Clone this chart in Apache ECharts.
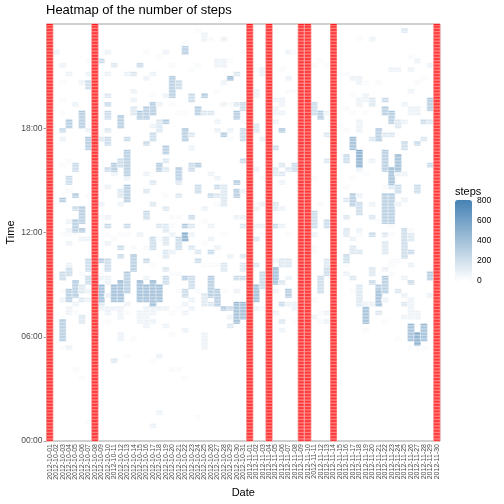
<!DOCTYPE html>
<html>
<head>
<meta charset="utf-8">
<script src="https://cdn.jsdelivr.net/npm/echarts@6/dist/echarts.min.js"></script>
<style>
html, body { margin: 0; padding: 0; background: #fff; }
#chart { width: 504px; height: 504px; }
</style>
</head>
<body>
<div id="chart"></div>
<script>
// Dates on the x axis: 2012-10-01 .. 2012-11-30
let dates = [];
for (let i = 1; i <= 31; i++) dates.push('2012-10-' + String(i).padStart(2, '0'));
for (let i = 1; i <= 30; i++) dates.push('2012-11-' + String(i).padStart(2, '0'));

// Days with no recorded data (drawn red)
let naDays = ['2012-10-01', '2012-10-08', '2012-11-01', '2012-11-04',
              '2012-11-09', '2012-11-10', '2012-11-14', '2012-11-30'];

// Step counts for the colour levels (0 = white)
let stepLevels = [0, 30, 90, 170, 260, 370, 480, 590, 700, 790];

// Per day: [start hour, end hour, level] stretches of activity
let octSteps = [
    [],
    [[22.25,22.5,2]],
    [[5.25,5.5,1],[5.75,7,5],[8,8.25,2],[8.5,8.75,1],[9.25,9.75,4],[11.75,12,1],[13.75,14,5],[15.75,16,1],[17.25,17.5,2],[17.75,18,4],[18.75,19,1],[19.5,19.75,1],[20.5,20.75,1],[21.5,21.75,2]],
    [[5.25,5.5,2],[7.25,7.75,2],[8,8.75,5],[9.5,10,4],[10,10.25,2],[11.25,11.5,2],[11.75,12,1],[12,12.25,2],[12.5,12.75,2],[14.25,14.5,1],[14.75,15.25,4],[16,16.25,1],[18,18.5,5],[21,21.25,2]],
    [[4,4.25,1],[7.25,7.5,1],[7.75,8,2],[8.25,9.25,5],[11.75,12,1],[12,12.75,5],[13.25,13.5,4],[14,14.25,5],[15.5,16,4],[19.25,19.5,2]],
    [[3.5,3.75,1],[6.75,7.25,3],[8,8.25,3],[8.5,9,3],[9.5,9.75,1],[11.5,11.75,2],[12,12.25,5],[12.5,13.5,5],[18,19,5],[20.5,20.75,2]],
    [[1,1.25,1],[8,8.25,2],[8.5,8.75,2],[9,9.5,4],[9.75,10.5,4],[11.5,11.75,2],[14,14.25,1],[16.75,17.5,5],[17.75,18,2],[20.25,20.75,4],[21,21.25,2],[21.75,22,1]],
    [],
    [[2,2.25,1],[7.5,7.75,2],[7.75,8,3],[8,9,6],[9.25,9.5,2],[10.25,10.5,5],[12.75,13,1],[13.5,13.75,2],[17.25,17.5,3],[21.75,22,4]],
    [[6.75,7,1],[7.25,7.75,2],[8.25,8.5,2],[9,9.5,2],[9.75,10.5,4],[11.25,11.5,2],[11.75,12,1],[12.25,12.5,4],[12.75,13,2],[14.5,14.75,2],[15.5,15.75,4],[17,17.5,4],[17.75,18,3],[18.5,19,4],[19.25,19.5,4],[19.75,20,3],[21,21.25,2],[22.25,22.5,2]],
    [[4.5,4.75,3],[7.5,7.75,2],[8,9,6],[11.5,11.75,1],[15.25,15.5,2],[15.5,16,5],[21.5,21.75,3]],
    [[5.75,6.25,2],[7,7.75,2],[8,9.25,6],[10.5,10.75,4],[11,11.25,4],[11.75,12,1],[13.5,13.75,2],[14,14.5,3],[15.75,16.25,4],[18,18.75,5]],
    [[4.75,5,1],[7.25,7.5,1],[7.75,8,2],[8.5,9.75,5],[11.75,12,1],[12.25,12.5,4],[13.75,14.75,5],[15,15.25,2],[15.25,16.75,5],[17.25,17.5,4],[21,21.25,2]],
    [[5.75,6,1],[9.75,10.75,5],[11,11.25,1],[18.75,19.25,3],[19.5,19.75,2],[20,20.25,2],[21,21.25,3]],
    [[6.75,7.5,2],[8,9.25,6],[11.75,12,2],[18.5,19,5],[21.5,21.75,4]],
    [[6.5,7.75,2],[8,9,6],[9.25,9.5,2],[10.25,10.5,4],[11,11.25,1],[12.75,13.25,4],[14.25,14.5,3],[15.25,15.5,2],[17,17.25,4],[18.5,19.25,5],[20.75,21,2],[22.25,22.5,1]],
    [[0.75,1,2],[4.5,4.75,1],[6.75,7,2],[7.25,7.75,2],[7.75,9.25,6],[10,10.25,1],[11,11.75,4],[13.5,13.75,3],[14.75,15,3],[17.25,17.75,4],[18,18.25,2],[18.75,19.5,5],[19.75,20,1],[21,21.25,2]],
    [[1.5,1.75,2],[4.75,5,2],[7.5,7.75,2],[8,9,6],[11.5,11.75,1],[12.25,12.5,3],[15.5,16,5],[17.75,18.5,3],[19.25,19.5,2],[22,22.25,1]],
    [[6.5,6.75,2],[7.5,7.75,2],[9,9.5,4],[9.75,10,3],[10.5,11,3],[11.25,11.75,3],[12,12.5,3],[13.25,13.5,3],[14,14.25,1],[15.5,15.75,3],[16,16.25,3],[16.5,17,5],[18.25,18.5,5],[19.75,20,2],[22.25,22.5,2]],
    [[4,4.25,1],[6,6.25,1],[7.25,7.5,1],[9.5,9.75,1],[10.75,11,2],[11.75,12,2],[12.25,12.5,1],[12.75,13,1],[19.25,19.5,1],[19.75,21,5],[21.5,21.75,1]],
    [[4,4.25,1],[7.5,7.75,1],[8.5,8.75,1],[9.5,9.75,1],[11,11.75,4],[12.75,13,1],[14,14.25,3],[14.75,15,3],[15,15.75,5],[18.75,19,1],[20.25,20.75,4]],
    [[3.5,3.75,1],[6.25,6.5,2],[7.25,7.5,2],[7.75,8,2],[8.25,8.75,4],[9.25,9.5,5],[11.5,12,7],[12.25,12.5,5],[17.25,18,5],[18.75,19,1],[22.25,22.75,5],[22.75,23,1]],
    [[7.5,7.75,2],[8,8.25,2],[8.75,9.5,4],[11,11.25,3],[11.75,12,2],[12.25,12.5,3],[12.75,13,4],[15.5,16,4],[16.75,17,2],[17.5,17.75,3],[19.5,20,4],[21.25,21.5,1]],
    [[1.25,1.5,1],[8.5,8.75,1],[10.25,10.5,4],[10.75,11,3],[14.25,14.75,4],[15.75,16,5],[18.75,19.25,5],[21.5,21.75,1],[23.5,23.75,1]],
    [[5.25,6.25,2],[7.75,8.5,3],[10,10.25,1],[11.25,11.5,1],[12.5,12.75,1],[13.25,13.5,2],[18.75,19,3],[19.75,20,5],[23,23.5,2]],
    [[7.75,8,3],[8.25,9.5,5],[10,10.25,1],[10.75,11,4],[11.5,11.75,2],[12.25,12.5,2],[14,14.25,4],[15.25,15.5,2],[18.75,19,3],[23,23.25,1]],
    [[7.75,8.75,5],[10,10.25,1],[11,11.25,2],[13.5,13.75,1],[14,14.25,3],[14.5,14.75,4],[15,15.25,2],[17.75,18,2],[18.25,18.5,2],[20,20.25,1],[21.5,22,2]],
    [[7.5,7.75,5],[8.5,8.75,1],[9.75,10.25,3],[11.75,12,1],[13.5,14.75,3],[17.5,17.75,5],[19.25,19.5,2],[20.5,20.75,2],[21.5,22,2],[23,23.25,2]],
    [[6.5,6.75,3],[7,7.25,2],[7.5,7.75,4],[10.5,10.75,2],[17.25,17.5,1],[17.75,18,2],[19.25,19.5,1],[20.75,21,6],[21.75,22,1]],
    [[6.75,8,6],[8.5,8.75,2],[9.25,9.5,4],[12.75,13,2],[14,14.5,5],[14.75,15,5],[18.5,19,5],[19.25,19.5,3],[21,21.25,3]],
    [[6.5,6.75,1],[7,8,6],[9.25,9.5,4],[9.75,10.25,3],[10.5,10.75,3],[12.25,12.5,3],[12.75,13,2],[14.25,14.5,2],[16,16.25,4],[17.25,18,4],[18.25,18.5,1],[19,19.5,4],[22.25,22.5,1]]
];

let novSteps = [
    [],
    [[7.5,7.75,2],[8,9,6],[10,10.25,3],[11.5,11.75,3],[12.25,12.5,2],[13.25,13.5,2],[13.5,13.75,1],[15.5,15.75,2],[17.75,18.25,3],[19.75,20.25,2],[21.25,21.5,1]],
    [[7.5,7.75,1],[8.75,9.75,4],[11.75,12,1],[12.25,12.5,2],[13.5,13.75,2],[15,15.25,1],[17.25,17.5,2],[21,21.5,2]],
    [],
    [[7.25,7.5,2],[8.5,8.75,2],[9,10,6],[10.25,10.5,2],[12.25,12.5,4],[13.25,13.75,3],[15.25,15.75,3],[16.75,17,4],[18.25,18.5,2],[18.75,19.25,2],[19.5,19.75,2],[23.5,23.75,1]],
    [[6.25,6.5,2],[6.75,7,3],[7.75,8,4],[9,9.25,3],[10,10.5,3],[12.25,12.5,2],[13.25,13.5,2],[14.75,15,2],[15.25,15.5,3],[15.75,16,3],[17.75,18,5],[18.75,19,2],[19.25,19.75,2],[21.25,21.5,1]],
    [[7.75,8,2],[8.25,8.75,5],[9.25,9.5,2],[10,10.5,3],[11.75,12,1],[15.5,15.75,3],[20,20.25,1],[20.75,21,2],[22.25,22.5,2]],
    [[6.75,7,1],[7.5,8,2],[15.5,16,4],[20,20.25,1],[22.25,22.5,1]],
    [],
    [],
    [[7,7.25,2],[8,8.25,1],[10.75,11.25,1],[11.75,12,2],[12.25,13.25,4],[15,15.25,1],[18.75,19.5,4],[21.5,21.75,1]],
    [[6.75,7,1],[7.25,7.5,1],[8.5,9.5,4],[13.5,13.75,1],[18.5,19,5],[21.75,22,1]],
    [[6.75,7,2],[7.25,7.5,2],[9.5,10,4],[10,10.5,3],[12.25,12.75,4],[16,16.25,3],[17.5,17.75,3],[18.75,19,2],[21.5,21.75,1]],
    [],
    [[3.25,3.5,1],[18,18.25,1],[21,21.25,1]],
    [[9.5,9.75,2],[10,10.25,1],[10.25,10.75,4],[11.75,12.25,3],[12.75,13,3],[13.75,14,3],[14.5,14.75,1],[16,16.5,4],[17.75,18,1],[19,19.25,1],[21,21.25,1]],
    [[8.5,8.75,1],[9.25,9.5,3],[10.75,11.25,3],[11.5,11.75,2],[13.5,14.25,5],[15,15.25,1],[16.75,17.5,6],[18.75,19,1],[19.75,20,1],[20.75,21,2]],
    [[7.75,9,3],[10.75,11,3],[11.75,12,1],[12,12.25,2],[13,13.75,4],[14,14.25,2],[15.5,15.75,2],[15.75,16.75,7],[17.75,18.5,2],[19.25,19.75,2],[20.5,21,2],[23,23.25,1]],
    [[6.25,6.5,1],[6.75,7.75,6],[7.75,8,2],[15.25,15.5,1],[18.75,19,1],[19.5,20,2],[20.5,20.75,1]],
    [[7.75,8,2],[9,9.25,4],[9.5,10,3],[11.75,12,4],[12.75,13,3],[13.5,13.75,2],[16,16.25,2],[17.25,17.5,3],[19.25,19.75,3],[23,23.25,2]],
    [[7.25,7.5,3],[7.75,8.75,6],[8.75,9,5],[12.5,12.75,1],[17.25,18,5],[20.5,20.75,1]],
    [[6.75,7,1],[8,8.25,2],[8.5,9.5,5],[9.75,10,2],[10.75,11.5,3],[11.75,12,3],[12.5,14.25,5],[14.5,14.75,1],[15.5,16.75,5],[17.5,17.75,3],[18.75,19.25,5],[19.5,19.75,4]],
    [[9.5,9.75,1],[10,10.5,1],[11.75,12,1],[12.25,12.5,1],[12.5,14.25,5],[14.5,14.75,3],[14.75,15.75,6],[17.5,17.75,3],[18.25,19,5],[21.25,21.5,2]],
    [[5.75,6,1],[8.5,8.75,3],[10.25,10.5,1],[13.5,13.75,2],[14.25,14.75,4],[15.25,15.5,2],[15.5,16.5,6],[18,18.5,3],[21.25,21.5,2]],
    [[7,7.25,2],[7.75,8,3],[8.25,8.5,2],[9.25,9.5,2],[10.5,12.25,4],[13.75,14,2],[15.25,15.5,2],[16.75,17.25,4],[18.25,18.5,2],[19.25,19.5,2],[23.5,23.75,3]],
    [[5.25,5.5,1],[5.75,6.75,6],[7,8.25,2],[9,9.25,4],[10,10.25,2],[10.75,11,4],[11.5,12,3],[12,12.25,1],[18.75,19.25,2],[20,20.25,2],[21.25,21.5,2],[22,22.25,1]],
    [[5.25,5.5,1],[5.5,6.25,7],[7,7.5,2],[14.25,14.75,4],[17,17.25,4],[18.75,19.25,2],[20.5,20.75,1],[21.75,22,2]],
    [[5.25,5.5,1],[5.75,6.75,6],[17.25,17.5,3],[18.25,18.5,4],[20.75,21,1]],
    [[8.25,8.5,2],[9.25,9.75,5],[15.75,16,4],[18.25,18.5,3],[19,19.75,5],[21.5,21.75,2]],
    []
];

let timeTicks = [0, 360, 720, 1080];      // minutes after midnight
let legendTicks = [0, 200, 400, 600, 800];
let maxSteps = 806;

// 5-minute rows
let slots = [];
for (let k = 0; k < 288; k++) slots.push(k);

let daySteps = octSteps.concat(novSteps);
let cells = [];
daySteps.forEach((segs, d) => {
    segs.forEach(([s, e, lvl]) => {
        for (let k = Math.round(s * 12); k < Math.round(e * 12); k++) {
            cells.push([d, k, stepLevels[lvl]]);
        }
    });
});

let naCells = [];
naDays.forEach(day => {
    let d = dates.indexOf(day);
    for (let k = 0; k < 288; k++) naCells.push([d, k, 1]);
});

// colour bar placement
let barLeft = 455, barTop = 200, barW = 17, barH = 81;
let legendGraphics = [{
    type: 'text', left: barLeft, top: 186,
    style: { text: 'steps', fontSize: 11, fill: '#000', fontFamily: 'Liberation Sans' }
}];
legendTicks.forEach(v => {
    let y = barTop + (1 - v / maxSteps) * barH;
    legendGraphics.push({
        type: 'text', x: barLeft + barW + 5, y: y,
        style: { text: String(v), fontSize: 8.5, fill: '#000', textVerticalAlign: 'middle', fontFamily: 'Liberation Sans' }
    });
    legendGraphics.push({ type: 'line', shape: { x1: barLeft, y1: y, x2: barLeft + 3, y2: y }, style: { stroke: '#fff', lineWidth: 0.6 } });
    legendGraphics.push({ type: 'line', shape: { x1: barLeft + barW - 3, y1: y, x2: barLeft + barW, y2: y }, style: { stroke: '#fff', lineWidth: 0.6 } });
});

let pad = n => String(n).padStart(2, '0');

let option = {
    animation: false,
    textStyle: { fontFamily: 'Liberation Sans' },
    title: {
        text: 'Heatmap of the number of steps',
        left: 46, top: 4, padding: 0,
        textStyle: { fontSize: 13, fontWeight: 'normal', color: '#000' }
    },
    grid: {
        left: 46.5, right: 64, top: 24, bottom: 63,
        show: true, borderColor: '#a0a0a0', borderWidth: 1,
        outerBoundsMode: 'none'
    },
    xAxis: {
        type: 'category',
        data: dates,
        axisLine: { show: false },
        axisTick: { alignWithLabel: true, length: 3, lineStyle: { color: '#a0a0a0' } },
        axisLabel: { interval: 0, rotate: 90, fontSize: 7, color: '#4d4d4d', margin: 3 },
        splitLine: { show: false },
        name: 'Date', nameLocation: 'middle', nameGap: 46, nameMoveOverlap: false,
        nameTextStyle: { fontSize: 11, color: '#000' }
    },
    yAxis: [
        { type: 'category', data: slots, show: false },
        {
            type: 'value', min: 0, max: 1440, interval: 360, position: 'left',
            axisLine: { show: false },
            axisTick: { show: true, length: 3, customValues: timeTicks, lineStyle: { color: '#a0a0a0' } },
            axisLabel: {
                customValues: timeTicks,
                fontSize: 8.5, color: '#4d4d4d', margin: 4,
                formatter: v => v >= 1440 ? '' : pad(Math.floor(v / 60)) + ':' + pad(v % 60)
            },
            splitLine: { show: false },
            name: 'Time', nameLocation: 'middle', nameGap: 30, nameRotate: 90, nameMoveOverlap: false,
            nameTextStyle: { fontSize: 11, color: '#000' }
        }
    ],
    visualMap: {
        type: 'continuous', seriesIndex: 0,
        min: 0, max: maxSteps, calculable: false,
        orient: 'vertical', left: barLeft, top: barTop, padding: 0,
        itemWidth: barW, itemHeight: barH,
        text: null, showLabel: false,
        inRange: { color: ['#ffffff', '#4682b4'] }
    },
    graphic: legendGraphics,
    series: [
        {
            name: 'steps', type: 'heatmap', data: cells,
            progressive: 0,
            itemStyle: { borderColor: '#fff', borderWidth: 0.45 },
            emphasis: { disabled: true }
        },
        {
            name: 'NA', type: 'heatmap', data: naCells,
            progressive: 0,
            itemStyle: { color: '#ff0000', borderColor: '#fff', borderWidth: 0.45 },
            emphasis: { disabled: true }
        }
    ]
};

let chart = echarts.init(document.getElementById('chart'));
chart.setOption(option);
</script>
</body>
</html>
